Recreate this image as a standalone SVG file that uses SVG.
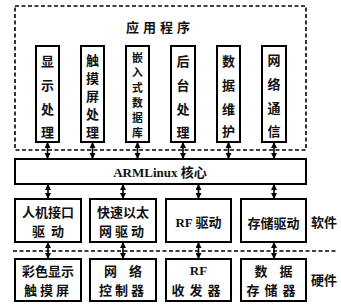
<svg xmlns="http://www.w3.org/2000/svg" width="341" height="306" viewBox="0 0 341 306">
<defs>
<marker id="ah" viewBox="0 0 6 6" refX="5" refY="3" markerWidth="6" markerHeight="6" markerUnits="userSpaceOnUse" orient="auto-start-reverse">
<path d="M0,0 L6,3 L0,6 z" fill="#000"/>
</marker>
<style>
.box{fill:#fff;stroke:#000;stroke-width:2}
.dash{fill:none;stroke:#000;stroke-width:1.6;stroke-dasharray:4,2.5}
.t{font-family:"Noto Sans CJK SC","Noto Sans",sans-serif;font-size:13px;font-weight:700;text-anchor:middle;dominant-baseline:central;fill:#111}
.sm{font-size:10.8px}
.s{font-family:"Liberation Serif","Noto Sans CJK SC",serif;font-size:13px;font-weight:700;text-anchor:middle;dominant-baseline:central;fill:#111}
.c{stroke:#000;stroke-width:1.6;fill:none;marker-start:url(#ah);marker-end:url(#ah)}
</style>
</defs>
<rect width="341" height="306" fill="#fff"/>
<g id="app">
<rect class="dash" x="15" y="6" width="291" height="144"/>
<text class="t" x="160" y="26" letter-spacing="4">应用程序</text>
</g>
<g id="n1"><rect class="box" x="36" y="46" width="23" height="96"/>
<text class="t" x="47.5" y="60">显</text><text class="t" x="47.5" y="84">示</text><text class="t" x="47.5" y="108">处</text><text class="t" x="47.5" y="131">理</text></g>
<g id="n2"><rect class="box" x="81" y="46" width="23" height="96"/>
<text class="t" x="92.5" y="59">触</text><text class="t" x="92.5" y="77">摸</text><text class="t" x="92.5" y="95">屏</text><text class="t" x="92.5" y="113">处</text><text class="t" x="92.5" y="131">理</text></g>
<g id="n3"><rect class="box" x="126" y="46" width="23" height="96"/>
<text class="t sm" x="137.5" y="57">嵌</text><text class="t sm" x="137.5" y="72">入</text><text class="t sm" x="137.5" y="87">式</text><text class="t sm" x="137.5" y="102">数</text><text class="t sm" x="137.5" y="117">据</text><text class="t sm" x="137.5" y="132">库</text></g>
<g id="n4"><rect class="box" x="171" y="46" width="24" height="96"/>
<text class="t" x="183" y="60">后</text><text class="t" x="183" y="84">台</text><text class="t" x="183" y="108">处</text><text class="t" x="183" y="131">理</text></g>
<g id="n5"><rect class="box" x="217" y="46" width="23" height="96"/>
<text class="t" x="228.5" y="60">数</text><text class="t" x="228.5" y="84">据</text><text class="t" x="228.5" y="108">维</text><text class="t" x="228.5" y="130">护</text></g>
<g id="n6"><rect class="box" x="262" y="46" width="24" height="96"/>
<text class="t" x="274" y="59">网</text><text class="t" x="274" y="83">络</text><text class="t" x="274" y="107">通</text><text class="t" x="274" y="130">信</text></g>
<g id="kernel"><rect class="box" x="15" y="159" width="291" height="25"/>
<text class="s" x="160" y="172">ARMLinux 核心</text></g>
<g id="d1"><rect class="box" x="15" y="199" width="66" height="43"/>
<text class="t" x="48" y="211.5">人机接口</text><text class="t" x="48" y="230.5" xml:space="preserve">驱  动</text></g>
<g id="d2"><rect class="box" x="90" y="199" width="66" height="43"/>
<text class="t" x="123" y="211.5">快速以太</text><text class="t" x="123" y="230.5" letter-spacing="3">网驱动</text></g>
<g id="d3"><rect class="box" x="166" y="199" width="65" height="43"/>
<text class="s" x="198.5" y="222">RF 驱动</text></g>
<g id="d4"><rect class="box" x="241" y="199" width="65" height="43"/>
<text class="t" x="273.5" y="222">存储驱动</text></g>
<line class="dash" x1="13" y1="251" x2="338" y2="251"/>
<g id="h1"><rect class="box" x="15" y="259" width="66" height="42"/>
<text class="t" x="48" y="270.5">彩色显示</text><text class="t" x="48" y="289" letter-spacing="3">触摸屏</text></g>
<g id="h2"><rect class="box" x="90" y="259" width="66" height="42"/>
<text class="t" x="123" y="270.5" xml:space="preserve">网    络</text><text class="t" x="123" y="289" letter-spacing="3">控制器</text></g>
<g id="h3"><rect class="box" x="166" y="259" width="65" height="42"/>
<text class="s" x="198.5" y="270.5">RF</text><text class="t" x="198.5" y="289" letter-spacing="5">收发器</text></g>
<g id="h4"><rect class="box" x="241" y="259" width="65" height="42"/>
<text class="t" x="273.5" y="270.5" xml:space="preserve">数    据</text><text class="t" x="273.5" y="289" letter-spacing="5">存储器</text></g>
<g id="labels">
<text class="t" x="324" y="221">软件</text>
<text class="t" x="324" y="279">硬件</text>
</g>
<g id="connectors">
<line class="c" x1="47.5" y1="143" x2="47.5" y2="158"/>
<line class="c" x1="92.5" y1="143" x2="92.5" y2="158"/>
<line class="c" x1="137.5" y1="143" x2="137.5" y2="158"/>
<line class="c" x1="183" y1="143" x2="183" y2="158"/>
<line class="c" x1="228.5" y1="143" x2="228.5" y2="158"/>
<line class="c" x1="274" y1="143" x2="274" y2="158"/>
<line class="c" x1="48" y1="185" x2="48" y2="198"/>
<line class="c" x1="123" y1="185" x2="123" y2="198"/>
<line class="c" x1="198.5" y1="185" x2="198.5" y2="198"/>
<line class="c" x1="274" y1="185" x2="274" y2="198"/>
<line class="c" x1="48" y1="243" x2="48" y2="258"/>
<line class="c" x1="123" y1="243" x2="123" y2="258"/>
<line class="c" x1="198.5" y1="243" x2="198.5" y2="258"/>
<line class="c" x1="274" y1="243" x2="274" y2="258"/>
</g>
</svg>
